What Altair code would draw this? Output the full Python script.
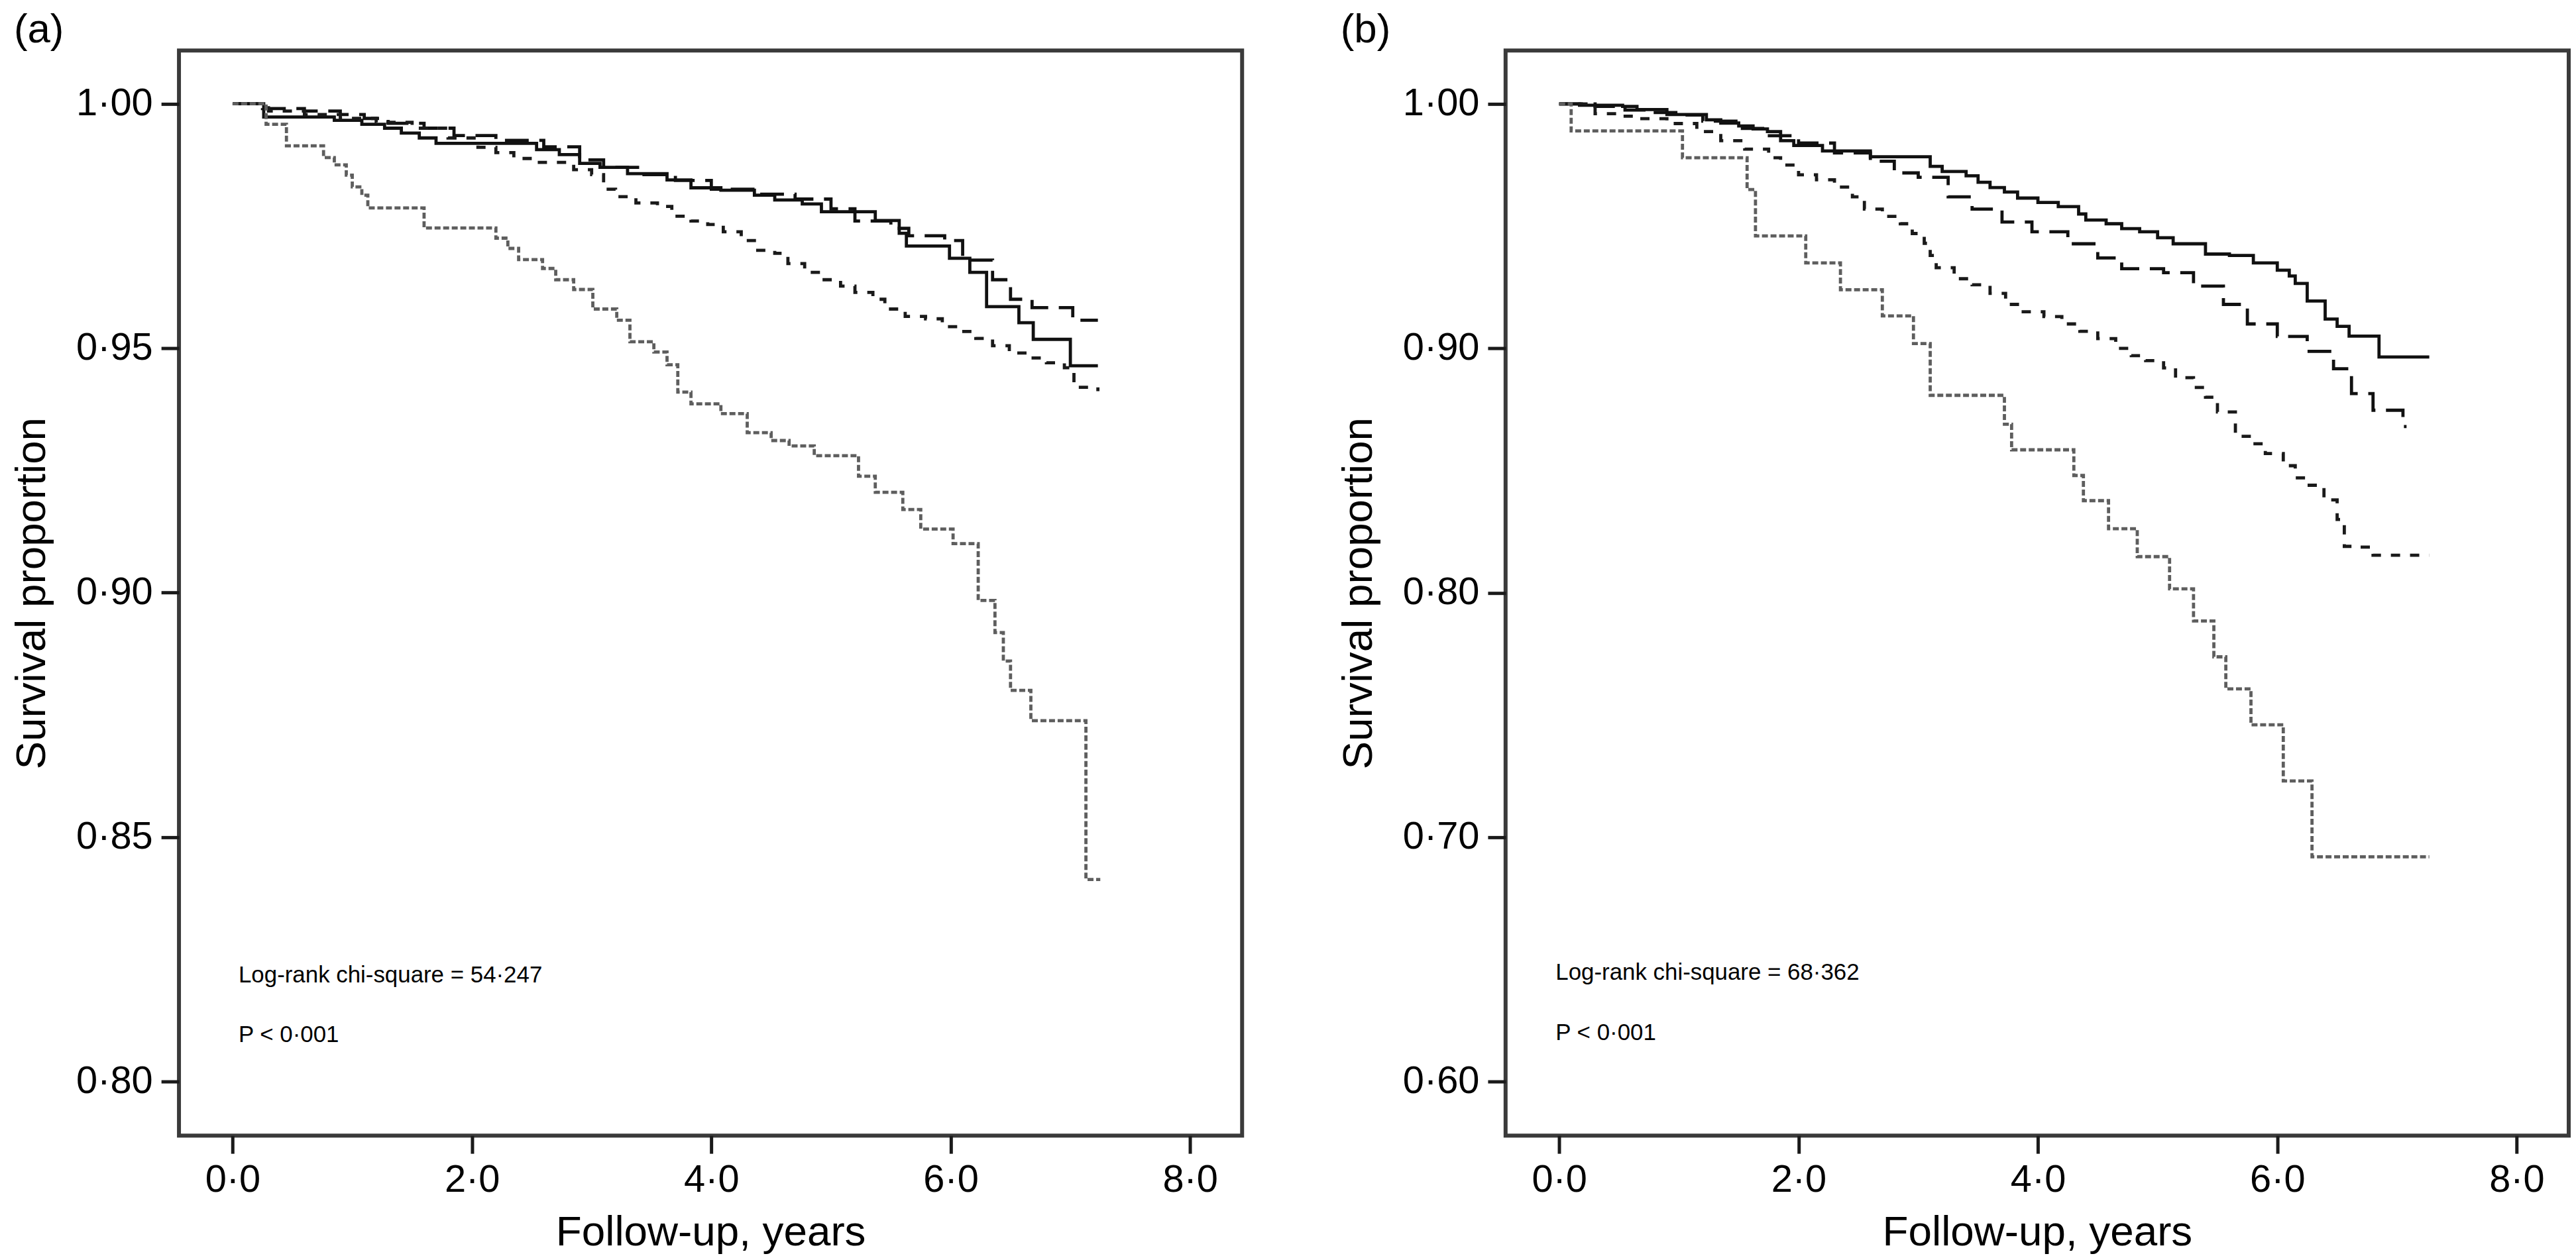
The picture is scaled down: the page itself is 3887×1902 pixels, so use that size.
import altair as alt
import pandas as pd

DOT = "\u00b7"
FONT = "Liberation Sans"

# ---------------- Panel (a) ----------------
A_SOLID_X = [0, 0.26, 0.85, 1.08, 1.27, 1.41, 1.56, 1.70, 2.54, 2.73, 2.90, 3.07, 3.30, 3.63, 3.83, 4.08, 4.36, 4.53, 4.76, 4.92, 5.37, 5.57, 5.63, 5.99, 6.16, 6.30, 6.57, 6.69, 7.00, 7.23]
A_SOLID_Y = [1.000, 0.9973, 0.9966, 0.9958, 0.9950, 0.9940, 0.9930, 0.9919, 0.9906, 0.9896, 0.9878, 0.9870, 0.9857, 0.9844, 0.9828, 0.9823, 0.9813, 0.9803, 0.9795, 0.9779, 0.9761, 0.9735, 0.9709, 0.9684, 0.9655, 0.9585, 0.9552, 0.9518, 0.9464, 0.9464]

A_LONG_X = [0, 0.25, 0.6, 0.9, 1.1, 1.3, 1.6, 1.85, 2.2, 2.6, 2.9, 3.1, 3.4, 3.7, 4.0, 4.4, 4.7, 5.0, 5.2, 5.5, 5.65, 5.95, 6.1, 6.35, 6.5, 6.68, 7.02, 7.23]
A_LONG_Y = [1.0, 0.9990, 0.9985, 0.9978, 0.9970, 0.9960, 0.9950, 0.9935, 0.9925, 0.9912, 0.9885, 0.9870, 0.9855, 0.9843, 0.9825, 0.9815, 0.9805, 0.9785, 0.9760, 0.9745, 0.9730, 0.9720, 0.9680, 0.9640, 0.9600, 0.9583, 0.9557, 0.9557]

A_SHORT_X = [0, 0.3, 0.6, 0.9, 1.2, 1.5, 1.8, 2.05, 2.2, 2.35, 2.5, 2.85, 3.0, 3.1, 3.2, 3.37, 3.55, 3.67, 3.83, 3.97, 4.1, 4.25, 4.36, 4.53, 4.64, 4.78, 4.92, 5.08, 5.2, 5.35, 5.45, 5.62, 5.79, 5.93, 6.07, 6.21, 6.35, 6.49, 6.64, 6.8, 6.95, 7.03, 7.23]
A_SHORT_Y = [1.0, 0.9985, 0.9978, 0.9970, 0.9962, 0.9950, 0.9930, 0.9911, 0.9900, 0.9888, 0.9880, 0.9865, 0.9855, 0.9825, 0.9810, 0.9797, 0.9790, 0.9770, 0.9760, 0.9753, 0.9738, 0.9720, 0.9700, 0.9694, 0.9673, 0.9655, 0.9640, 0.9627, 0.9614, 0.9600, 0.9580, 0.9565, 0.9560, 0.9544, 0.9534, 0.9520, 0.9505, 0.9490, 0.9480, 0.9470, 0.9460, 0.9420, 0.9412]

A_GRAY_X = [0, 0.28, 0.45, 0.76, 0.85, 0.95, 1.0, 1.08, 1.13, 1.6, 2.2, 2.3, 2.39, 2.59, 2.7, 2.85, 3.01, 3.21, 3.32, 3.52, 3.63, 3.72, 3.83, 4.08, 4.3, 4.5, 4.65, 4.86, 5.23, 5.37, 5.6, 5.75, 6.02, 6.23, 6.37, 6.44, 6.5, 6.67, 7.13, 7.25]
A_GRAY_Y = [1.0, 0.9958, 0.9914, 0.9890, 0.9875, 0.9854, 0.9830, 0.9813, 0.9787, 0.9746, 0.9725, 0.9704, 0.9681, 0.9663, 0.9640, 0.9620, 0.9580, 0.9557, 0.9513, 0.9492, 0.9466, 0.9410, 0.9386, 0.9366, 0.9327, 0.9311, 0.9300, 0.9280, 0.9238, 0.9205, 0.9170, 0.9130, 0.9100, 0.8984, 0.8918, 0.8860, 0.8800, 0.8738, 0.8413, 0.8413]

# ---------------- Panel (b) ----------------
B_SOLID_X = [0, 0.17, 0.53, 0.65, 0.9, 1.23, 1.35, 1.5, 1.62, 1.74, 1.85, 1.96, 2.2, 2.6, 3.1, 3.2, 3.4, 3.5, 3.6, 3.72, 3.83, 4.0, 4.17, 4.34, 4.4, 4.57, 4.7, 4.85, 5.0, 5.13, 5.4, 5.6, 5.8, 6.0, 6.1, 6.15, 6.25, 6.4, 6.5, 6.6, 6.85, 7.27]
B_SOLID_Y = [1.0, 0.9995, 0.9990, 0.9977, 0.9957, 0.9935, 0.9922, 0.9910, 0.9898, 0.9887, 0.9850, 0.9830, 0.9808, 0.9784, 0.9745, 0.9724, 0.9706, 0.9680, 0.9658, 0.9640, 0.9615, 0.9597, 0.9580, 0.9550, 0.9525, 0.9510, 0.9490, 0.9477, 0.9453, 0.9428, 0.9386, 0.9380, 0.9350, 0.9320, 0.9296, 0.9266, 0.9194, 0.9120, 0.9090, 0.9050, 0.8965, 0.8965]

B_LONG_X = [0, 0.3, 0.55, 0.75, 1.0, 1.2, 1.5, 1.7, 2.0, 2.3, 2.6, 2.8, 3.0, 3.25, 3.45, 3.7, 3.95, 4.25, 4.5, 4.7, 5.05, 5.3, 5.55, 5.75, 6.0, 6.25, 6.47, 6.62, 6.8, 7.05, 7.08]
B_LONG_Y = [1.0, 0.9990, 0.9975, 0.9965, 0.9955, 0.9930, 0.9900, 0.9870, 0.9840, 0.9800, 0.9766, 0.9718, 0.9700, 0.9620, 0.9570, 0.9517, 0.9477, 0.9428, 0.9370, 0.9326, 0.9310, 0.9255, 0.9180, 0.9100, 0.9049, 0.8988, 0.8917, 0.8815, 0.8747, 0.8680, 0.8680]

B_SHORT_X = [0, 0.3, 0.5, 0.65, 0.9, 1.15, 1.35, 1.55, 1.75, 1.85, 2.0, 2.15, 2.3, 2.45, 2.55, 2.7, 2.85, 2.95, 3.05, 3.1, 3.15, 3.3, 3.45, 3.6, 3.73, 3.85, 4.05, 4.2, 4.35, 4.5, 4.65, 4.78, 4.9, 5.05, 5.15, 5.3, 5.4, 5.5, 5.65, 5.8, 5.9, 6.05, 6.15, 6.25, 6.39, 6.5, 6.56, 6.65, 6.8, 7.27]
B_SHORT_Y = [1.0, 0.9960, 0.9950, 0.9940, 0.9920, 0.9887, 0.9850, 0.9815, 0.9780, 0.9750, 0.9710, 0.9690, 0.9660, 0.9620, 0.9570, 0.9540, 0.9510, 0.9470, 0.9430, 0.9380, 0.9330, 0.9285, 0.9260, 0.9225, 0.9180, 0.9150, 0.9130, 0.9100, 0.9070, 0.9040, 0.9000, 0.8970, 0.8950, 0.8920, 0.8880, 0.8840, 0.8800, 0.8740, 0.8640, 0.8610, 0.8570, 0.8520, 0.8470, 0.8440, 0.8380, 0.8300, 0.8190, 0.8187, 0.8154, 0.8154]

B_GRAY_X = [0, 0.1, 1.03, 1.57, 1.64, 2.06, 2.35, 2.7, 2.96, 3.1, 3.72, 3.78, 4.3, 4.38, 4.59, 4.83, 5.1, 5.3, 5.47, 5.57, 5.78, 6.05, 6.29, 7.27]
B_GRAY_Y = [1.0, 0.989, 0.978, 0.965, 0.946, 0.935, 0.924, 0.9133, 0.902, 0.8808, 0.869, 0.8585, 0.848, 0.8377, 0.8262, 0.8148, 0.8016, 0.7885, 0.7738, 0.7607, 0.746, 0.723, 0.692, 0.692]

X_TICKS = [0, 2, 4, 6, 8]
A_Y_TICKS = [0.80, 0.85, 0.90, 0.95, 1.00]
B_Y_TICKS = [0.60, 0.70, 0.80, 0.90, 1.00]
X_DOMAIN = [-0.448, 8.435]
A_Y_DOMAIN = [0.7889, 1.0109]
B_Y_DOMAIN = [0.5779, 1.0219]

A_CHI = "Log-rank chi-square = 54" + DOT + "247"
B_CHI = "Log-rank chi-square = 68" + DOT + "362"
P_TEXT = "P < 0" + DOT + "001"

W, H = 1610, 1644

STYLES = [
    ("solid", "#111111", None),
    ("long", "#111111", [36, 16]),
    ("short", "#1a1a1a", [14, 15]),
    ("gray", "#5e5e5e", [9, 4]),
]


def panel(tag, curves, ydom, yticks, yfmt, ann_x, ann_y, ann_texts):
    xsc = alt.Scale(domain=X_DOMAIN, nice=False, zero=False)
    ysc = alt.Scale(domain=ydom, nice=False, zero=False)
    xaxis = alt.Axis(
        values=X_TICKS,
        labelExpr="replace(format(datum.value, '.1f'), '.', '" + DOT + "')",
        labelPadding=12, titlePadding=18, labelFlush=False,
    )
    yaxis = alt.Axis(
        values=yticks,
        labelExpr="replace(format(datum.value, '" + yfmt + "'), '.', '" + DOT + "')",
        labelPadding=13, titlePadding=34, labelOverlap=False,
    )
    X = alt.X("x:Q", scale=xsc, axis=xaxis, title="Follow-up, years")
    Y = alt.Y("y:Q", scale=ysc, axis=yaxis, title="Survival proportion")
    layers = []
    for (name, color, dash), (xs, ys) in zip(STYLES, curves):
        df = pd.DataFrame({"x": xs, "y": ys})
        kw = dict(interpolate="step-after", color=color, strokeWidth=4.8)
        if dash:
            kw["strokeDash"] = dash
        layers.append(alt.Chart(df).mark_line(**kw).encode(x=X, y=Y))
    ann = pd.DataFrame({"x": [ann_x, ann_x], "y": ann_y, "t": ann_texts})
    layers.append(
        alt.Chart(ann).mark_text(
            align="left", baseline="alphabetic", font=FONT, fontSize=35, color="black"
        ).encode(x=X, y=Y, text="t:N")
    )
    lab = pd.DataFrame({"t": [tag]})
    layers.append(
        alt.Chart(lab).mark_text(
            align="left", baseline="top", font=FONT, fontSize=62, color="black"
        ).encode(x=alt.value(-250), y=alt.value(-61), text="t:N")
    )
    return alt.layer(*layers).properties(width=W, height=H)


pa = panel(
    "(a)",
    [(A_SOLID_X, A_SOLID_Y), (A_LONG_X, A_LONG_Y), (A_SHORT_X, A_SHORT_Y), (A_GRAY_X, A_GRAY_Y)],
    A_Y_DOMAIN, A_Y_TICKS, ".2f", 0.05, [0.8203, 0.8080], [A_CHI, P_TEXT],
)
pb = panel(
    "(b)",
    [(B_SOLID_X, B_SOLID_Y), (B_LONG_X, B_LONG_Y), (B_SHORT_X, B_SHORT_Y), (B_GRAY_X, B_GRAY_Y)],
    B_Y_DOMAIN, B_Y_TICKS, ".2f", -0.03, [0.6416, 0.6170], [B_CHI, P_TEXT],
)

chart = (
    alt.hconcat(pa, pb, spacing=138)
    .properties(padding={"left": 5, "top": 0, "right": 0, "bottom": 0}, background="white")
    .configure_view(stroke="#3a3a3a", strokeWidth=6)
    .configure_axis(
        domain=False, grid=False,
        tickColor="#1a1a1a", tickWidth=5, tickSize=27,
        labelFont=FONT, labelFontSize=58, labelColor="black",
        titleFont=FONT, titleFontSize=64, titleFontWeight="normal", titleColor="black",
    )
)

chart.save("out.html", embed_options={"renderer": "svg", "actions": False})
